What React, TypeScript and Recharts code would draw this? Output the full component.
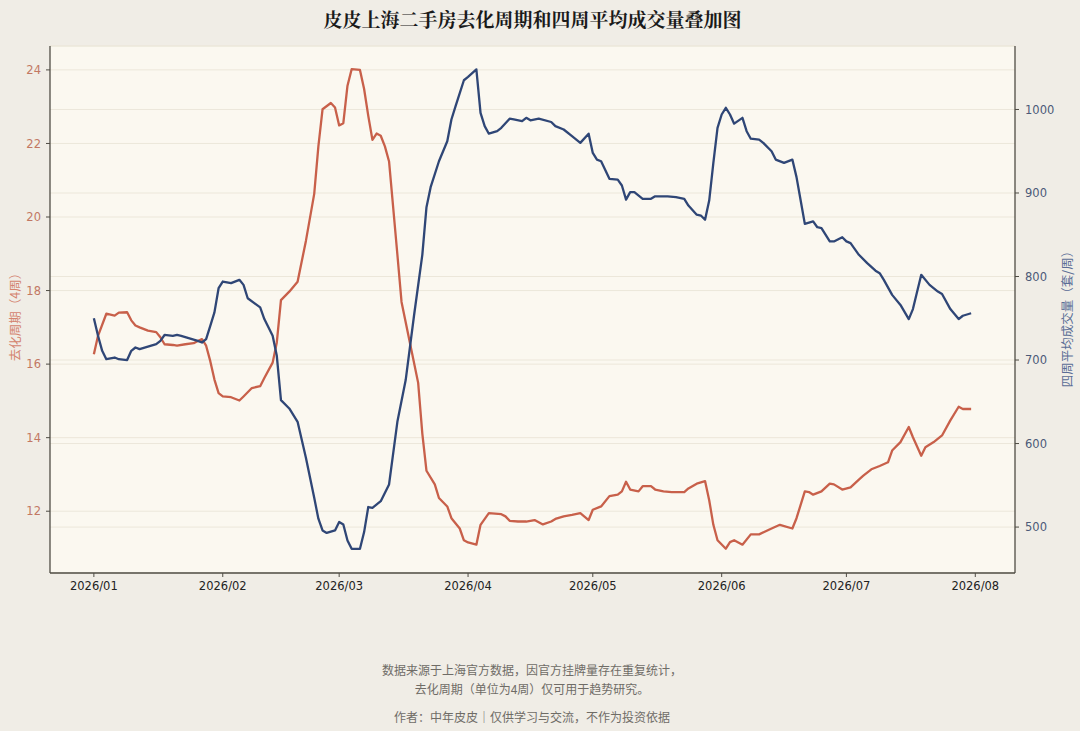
import React from "react";
import {
  LineChart,
  Line,
  XAxis,
  YAxis,
  CartesianGrid,
} from "recharts";

// days counted from 2026-01-01
const monthTicks = [0, 31, 59, 90, 120, 151, 181, 212];
const monthLabels = [
  "2026/01", "2026/02", "2026/03", "2026/04",
  "2026/05", "2026/06", "2026/07", "2026/08",
];

const cycleTicks = [12, 14, 16, 18, 20, 22, 24];
const volumeTicks = [500, 600, 700, 800, 900, 1000];

// 去化周期（4周）
const cycleDays = [
  0, 1, 3, 5, 6, 8, 9, 10, 11, 13,
  15, 16, 17, 19, 20, 22, 24, 25, 26, 27,
  28, 29, 30, 31, 33, 35, 36, 38, 40, 41,
  43, 44, 45, 47, 49, 51, 53, 54, 55, 57,
  58, 59, 60, 61, 62, 64, 65, 66, 67, 68,
  69, 70, 71, 73, 74, 76, 78, 79, 80, 82,
  83, 85, 86, 88, 89, 90, 92, 93, 95, 98,
  99, 100, 102, 104, 106, 108, 110, 111, 113, 115,
  117, 119, 120, 122, 124, 126, 127, 128, 129, 131,
  132, 134, 135, 137, 139, 142, 143, 145, 147, 148,
  149, 150, 152, 153, 154, 156, 158, 160, 163, 165,
  168, 169, 171, 172, 173, 175, 177, 178, 180, 182,
  184, 185, 187, 189, 191, 192, 194, 196, 197, 199,
  200, 202, 204, 206, 208, 209, 211,
];
const cycleValues = [
  16.27, 16.77, 17.37, 17.32, 17.4, 17.41, 17.19, 17.05, 17.0, 16.91,
  16.87, 16.73, 16.54, 16.52, 16.5, 16.54, 16.57, 16.63, 16.68, 16.5,
  16.08, 15.58, 15.21, 15.12, 15.1, 15.01, 15.12, 15.35, 15.4, 15.62,
  16.04, 16.59, 17.74, 17.97, 18.24, 19.35, 20.63, 21.92, 22.93, 23.1,
  22.98, 22.49, 22.55, 23.57, 24.02, 24.0, 23.48, 22.75, 22.1, 22.27,
  22.21, 21.92, 21.51, 18.98, 17.69, 16.59, 15.49, 14.11, 13.1, 12.73,
  12.36, 12.13, 11.81, 11.53, 11.21, 11.15, 11.09, 11.63, 11.95, 11.92,
  11.86, 11.74, 11.72, 11.72, 11.76, 11.64, 11.72, 11.79, 11.86, 11.9,
  11.95, 11.76, 12.04, 12.13, 12.41, 12.45, 12.54, 12.8, 12.59, 12.54,
  12.68, 12.68, 12.59, 12.54, 12.52, 12.52, 12.62, 12.75, 12.82, 12.3,
  11.63, 11.21, 10.98, 11.16, 11.21, 11.09, 11.37, 11.37, 11.53, 11.63,
  11.53, 11.81, 12.54, 12.52, 12.45, 12.54, 12.75, 12.73, 12.59, 12.65,
  12.86, 12.96, 13.14, 13.23, 13.33, 13.65, 13.88, 14.29, 14.01, 13.51,
  13.74, 13.88, 14.06, 14.47, 14.84, 14.78, 14.78,
];

// 四周平均成交量（套/周）
const volumeDays = [
  0, 1, 2, 3, 5, 6, 8, 9, 10, 11,
  13, 15, 16, 17, 19, 20, 21, 23, 25, 26,
  27, 28, 29, 30, 31, 33, 35, 36, 37, 40,
  41, 43, 44, 45, 47, 49, 51, 53, 54, 55,
  56, 58, 59, 60, 61, 62, 64, 65, 66, 67,
  69, 71, 73, 75, 77, 79, 80, 81, 83, 85,
  86, 87, 89, 90, 92, 93, 94, 95, 97, 98,
  100, 101, 103, 104, 105, 107, 110, 111, 113, 115,
  117, 119, 120, 121, 122, 124, 126, 127, 128, 129,
  130, 132, 134, 135, 138, 140, 142, 143, 145, 146,
  147, 148, 149, 150, 151, 152, 153, 154, 156, 157,
  158, 160, 161, 163, 164, 166, 168, 169, 170, 171,
  173, 174, 175, 177, 178, 180, 181, 182, 184, 186,
  188, 189, 190, 192, 194, 196, 197, 199, 201, 203,
  204, 206, 208, 209, 211,
];
const volumeValues = [
  750, 729, 711, 701, 703, 701, 700, 711, 715, 713,
  716, 719, 723, 730, 729, 730, 729, 726, 723, 721,
  725, 741, 757, 786, 794, 792, 796, 790, 774, 763,
  749, 729, 705, 652, 642, 626, 583, 535, 510, 496,
  493, 496, 506, 503, 484, 474, 474, 494, 524, 523,
  531, 551, 626, 676, 753, 826, 883, 907, 938, 962,
  988, 1004, 1035, 1039, 1048, 996, 980, 971, 974, 978,
  989, 988, 986, 990, 987, 989, 985, 980, 976, 968,
  960, 971, 948, 940, 938, 917, 916, 909, 892, 901,
  901, 893, 893, 896, 896, 895, 893, 885, 874, 873,
  868, 891, 936, 978, 994, 1002, 994, 983, 990, 974,
  965, 964, 960, 950, 940, 936, 940, 919, 891, 863,
  866, 859, 858, 842, 842, 847, 842, 840, 826, 816,
  807, 804, 796, 778, 766, 749, 761, 802, 790, 782,
  779, 761, 749, 753, 756,
];

const cycleData = cycleDays.map((day, i) => ({ day, value: cycleValues[i] }));
const volumeData = volumeDays.map((day, i) => ({ day, value: volumeValues[i] }));

const RED = "#c8604a";
const BLUE = "#2f4676";
const FRAME = "#4f4c44";
const TICK_FONT = "DejaVu Sans, sans-serif";
const CJK_FONT = '"Noto Sans CJK SC", sans-serif';

export default function App() {
  return (
    <div
      style={{
        position: "absolute",
        left: 0,
        top: 0,
        width: 1080,
        height: 731,
        background: "#f0ede6",
        fontFamily: CJK_FONT,
        overflow: "hidden",
      }}
    >
      <div
        style={{
          position: "absolute",
          top: 5,
          left: 0,
          width: 1065,
          textAlign: "center",
          fontSize: 19,
          fontWeight: 700,
          color: "#1a1a1a",
          fontFamily: '"Noto Serif CJK SC", "Noto Sans CJK SC", serif',
        }}
      >
        皮皮上海二手房去化周期和四周平均成交量叠加图
      </div>

      <LineChart
        width={1080}
        height={610}
        margin={{ top: 46, right: 0, bottom: 0, left: 0 }}
        style={{ position: "absolute", left: 0, top: 0 }}
      >
        <CartesianGrid
          yAxisId="left"
          vertical={false}
          stroke="#ece7da"
          fill="#fbf8f0"
        />
        <CartesianGrid yAxisId="right" vertical={false} stroke="#ece7da" />
        <XAxis
          dataKey="day"
          type="number"
          domain={[-10.55, 221.55]}
          ticks={monthTicks}
          tickFormatter={(d: number) => monthLabels[monthTicks.indexOf(d)]}
          allowDataOverflow
          height={37}
          tickSize={4}
          tickMargin={5}
          stroke={FRAME}
          axisLine={{ stroke: FRAME, strokeWidth: 1.3 }}
          tick={{ fill: "#222", fontSize: 11.5, fontFamily: TICK_FONT }}
        />
        <XAxis
          xAxisId="top"
          orientation="top"
          dataKey="day"
          type="number"
          domain={[-10.55, 221.55]}
          height={0}
          tick={false}
          tickLine={false}
          axisLine={{ stroke: FRAME, strokeWidth: 1.3 }}
        />
        <YAxis
          yAxisId="left"
          orientation="left"
          domain={[10.32, 24.65]}
          ticks={cycleTicks}
          allowDataOverflow
          width={50}
          tickSize={4}
          tickMargin={5}
          stroke={FRAME}
          axisLine={{ stroke: FRAME, strokeWidth: 1.3 }}
          tick={{ fill: "#c27863", fontSize: 11.5, fontFamily: TICK_FONT }}
        />
        <YAxis
          yAxisId="right"
          orientation="right"
          domain={[445, 1076]}
          ticks={volumeTicks}
          allowDataOverflow
          width={65}
          tickSize={4}
          tickMargin={6}
          stroke={FRAME}
          axisLine={{ stroke: FRAME, strokeWidth: 1.3 }}
          tick={{ fill: "#4c5a78", fontSize: 11.5, fontFamily: TICK_FONT }}
        />
        <Line
          yAxisId="left"
          data={cycleData}
          dataKey="value"
          type="linear"
          stroke={RED}
          strokeWidth={2.3}
          dot={false}
          strokeLinejoin="round"
          isAnimationActive={false}
        />
        <Line
          yAxisId="right"
          data={volumeData}
          dataKey="value"
          type="linear"
          stroke={BLUE}
          strokeWidth={2.3}
          dot={false}
          strokeLinejoin="round"
          isAnimationActive={false}
        />
      </LineChart>

      <div
        style={{
          position: "absolute",
          left: 14,
          top: 314,
          transform: "translate(-50%, -50%) rotate(-90deg)",
          whiteSpace: "nowrap",
          fontSize: 12.5,
          color: "#d4846f",
        }}
      >
        去化周期（4周）
      </div>
      <div
        style={{
          position: "absolute",
          left: 1066,
          top: 316,
          transform: "translate(-50%, -50%) rotate(-90deg)",
          whiteSpace: "nowrap",
          fontSize: 12.5,
          color: "#5b6d96",
        }}
      >
        四周平均成交量（套/周）
      </div>

      <div
        style={{
          position: "absolute",
          left: 0,
          top: 660,
          width: 1064,
          textAlign: "center",
          fontSize: 12,
          lineHeight: "19px",
          color: "#6f6c66",
        }}
      >
        <div>数据来源于上海官方数据，因官方挂牌量存在重复统计，</div>
        <div>去化周期（单位为4周）仅可用于趋势研究。</div>
        <div style={{ marginTop: 9 }}>
          作者：中年皮皮｜仅供学习与交流，不作为投资依据
        </div>
      </div>
    </div>
  );
}
